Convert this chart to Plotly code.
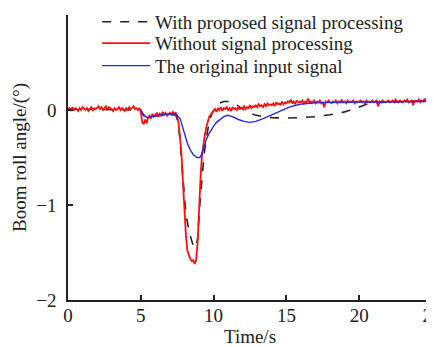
import plotly.graph_objects as go

# ---- data ----
red_t = [round(i * 0.1, 1) for i in range(251)]
red_v = [
    0.01, 0.02, -0.01, 0.03, 0.00, 0.02, 0.01, -0.01, 0.02, 0.00,
    0.03, 0.01, 0.00, 0.02, -0.01, 0.01, 0.03, 0.00, 0.02, 0.01,
    0.02, 0.04, 0.01, 0.03, 0.00, 0.02, 0.04, 0.01, 0.03, 0.02,
    0.01, -0.01, 0.02, 0.00, 0.01, 0.03, 0.00, 0.02, 0.01, -0.01,
    0.02, 0.00, 0.03, 0.01, 0.02, 0.04, 0.01, 0.02, 0.00, 0.02,
    -0.02, -0.13, -0.15, -0.10, -0.14, -0.08, -0.06, -0.09, -0.04, -0.07,
    -0.05, -0.03, -0.07, -0.04, -0.06, -0.02, -0.05, -0.03, -0.06, -0.04,
    -0.03, -0.05, -0.02, -0.04, -0.03, -0.06, -0.15, -0.30, -0.48, -0.78,
    -1.08, -1.32, -1.48, -1.54, -1.57, -1.59, -1.58, -1.62, -1.58, -1.40,
    -0.98, -0.72, -0.48, -0.35, -0.26, -0.18, -0.12, -0.07, -0.05, -0.03,
    -0.01, 0.01, -0.02, 0.02, 0.00, 0.03, -0.01, 0.02, 0.01, 0.03,
    0.00, 0.02, -0.01, 0.03, 0.01, 0.02, 0.00, 0.03, 0.01, 0.02,
    0.02, 0.04, 0.01, 0.03, 0.02, 0.05, 0.02, 0.04, 0.03, 0.05,
    0.03, 0.06, 0.04, 0.05, 0.03, 0.06, 0.04, 0.07, 0.05, 0.06,
    0.05, 0.07, 0.04, 0.08, 0.06, 0.07, 0.05, 0.09, 0.06, 0.08,
    0.07, 0.09, 0.08, 0.11, 0.07, 0.09, 0.06, 0.10, 0.08, 0.09,
    0.08, 0.10, 0.07, 0.09, 0.08, 0.12, 0.07, 0.09, 0.08, 0.10,
    0.07, 0.09, 0.08, 0.10, 0.07, 0.08, 0.03, 0.09, 0.08, 0.10,
    0.08, 0.07, 0.09, 0.08, 0.10, 0.07, 0.09, 0.08, 0.11, 0.08,
    0.09, 0.07, 0.10, 0.08, 0.09, 0.08, 0.10, 0.07, 0.09, 0.08,
    0.09, 0.10, 0.08, 0.09, 0.07, 0.10, 0.08, 0.09, 0.08, 0.10,
    0.08, 0.09, 0.10, 0.04, 0.09, 0.08, 0.10, 0.09, 0.08, 0.09,
    0.10, 0.08, 0.09, 0.10, 0.08, 0.11, 0.09, 0.08, 0.10, 0.09,
    0.08, 0.10, 0.09, 0.11, 0.08, 0.09, 0.10, 0.05, 0.09, 0.10,
    0.09, 0.11, 0.08, 0.10, 0.09, 0.12, 0.09, 0.10, 0.08, 0.11,
    0.10,
]

blue_t = [5.0, 5.2, 5.4, 5.7, 6.0, 6.5, 7.0, 7.4, 7.7, 8.0, 8.2, 8.4, 8.6,
          8.85, 9.05, 9.2, 9.35, 9.5, 9.65, 9.8, 10.0, 10.2, 10.45, 10.7,
          10.95, 11.3, 11.7, 12.1, 12.5, 12.9, 13.4, 14.0, 14.6, 15.2, 15.9,
          17.0, 18.0, 20.0, 22.0, 24.0, 25.0]
blue_v = [0.0, -0.05, -0.08, -0.07, -0.06, -0.05, -0.04, -0.045, -0.09, -0.25,
          -0.35, -0.42, -0.47, -0.50, -0.50, -0.46, -0.38, -0.31, -0.26, -0.22,
          -0.17, -0.13, -0.10, -0.07, -0.055, -0.07, -0.10, -0.12, -0.13, -0.12,
          -0.09, -0.05, -0.01, 0.03, 0.06, 0.075, 0.08, 0.08, 0.085, 0.09, 0.09]

dash_t = [0.0, 5.0, 5.2, 5.5, 6.0, 7.0, 7.4, 7.6, 7.75, 7.9, 8.1, 8.35, 8.6,
          8.75, 8.9, 9.05, 9.2, 9.35, 9.5, 9.7, 9.9, 10.1, 10.4, 10.7, 11.0,
          11.4, 11.8, 12.3, 12.8, 13.4, 14.0, 15.0, 16.0, 17.0, 18.0, 19.0,
          19.8, 20.5, 21.5, 23.0, 25.0]
dash_v = [0.01, 0.0, -0.06, -0.07, -0.06, -0.05, -0.05, -0.15, -0.45, -0.8,
          -1.1, -1.3, -1.43, -1.45, -1.36, -1.0, -0.72, -0.46, -0.3, -0.12,
          -0.03, 0.02, 0.07, 0.09, 0.09, 0.07, 0.03, -0.02, -0.05, -0.07,
          -0.08, -0.085, -0.08, -0.07, -0.05, -0.02, 0.02, 0.06, 0.08, 0.09, 0.1]

names = ["With proposed signal processing", "Without signal processing",
         "The original input signal"]
x_ticks = [0, 5, 10, 15, 20, 25]
y_ticks = [1, 0, -1, -2]

FONT = "Liberation Serif"
INK = "#222222"

fig = go.Figure()
fig.add_trace(go.Scatter(x=dash_t, y=dash_v, mode="lines", name=names[0],
                         legend="legend",
                         line=dict(color=INK, width=1.6, dash="dash")))
fig.add_trace(go.Scatter(x=red_t, y=red_v, mode="lines", name=names[1],
                         legend="legend2",
                         line=dict(color="#ff1010", width=1.8)))
fig.add_trace(go.Scatter(x=blue_t, y=blue_v, mode="lines", name=names[2],
                         legend="legend3",
                         line=dict(color="#2a2ad8", width=1.4)))

axis_common = dict(showline=True, linecolor=INK, linewidth=1.5,
                   ticks="inside", ticklen=5, tickwidth=1.5, tickcolor=INK,
                   showgrid=False, zeroline=False, mirror=False,
                   tickfont=dict(family=FONT, size=19, color=INK))

fig.update_xaxes(range=[0, 25], tickvals=x_ticks, ticklabelstandoff=-3,
                 title=dict(text="Time/s", font=dict(family=FONT, size=19, color=INK),
                            standoff=5),
                 **axis_common)
fig.update_yaxes(range=[-2, 1], tickvals=y_ticks, ticklabelstandoff=6,
                 title=dict(text="Boom roll angle/(°)",
                            font=dict(family=FONT, size=19, color=INK),
                            standoff=5),
                 **axis_common)

leg_common = dict(x=0.08, xanchor="left", yanchor="middle",
                  bgcolor="rgba(0,0,0,0)",
                  font=dict(family=FONT, size=19, color=INK), itemwidth=48)

# the page body adds an 8px offset, margins compensate for it
fig.update_layout(
    width=434, height=347,
    margin=dict(l=60, r=10, t=7, b=55, autoexpand=False),
    plot_bgcolor="white", paper_bgcolor="white",
    font=dict(family=FONT, color=INK),
    showlegend=True,
    legend=dict(y=0.976, **leg_common),
    legend2=dict(y=0.901, **leg_common),
    legend3=dict(y=0.822, **leg_common),
)

fig.write_html("out.html")
